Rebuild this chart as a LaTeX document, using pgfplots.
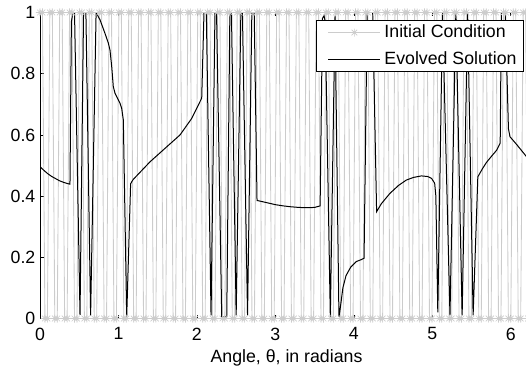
\documentclass[border=0pt]{standalone}
\usepackage{fontspec}
\setmainfont{Liberation Sans}
\usepackage{pgfplots}
\pgfplotsset{compat=1.18}
\definecolor{icgray}{rgb}{0.8,0.8,0.8}
\pgfdeclareplotmark{mstar}{%
 \pgfpathmoveto{\pgfqpoint{-\pgfplotmarksize}{0pt}}\pgfpathlineto{\pgfqpoint{\pgfplotmarksize}{0pt}}%
 \pgfpathmoveto{\pgfqpoint{0pt}{-\pgfplotmarksize}}\pgfpathlineto{\pgfqpoint{0pt}{\pgfplotmarksize}}%
 \pgfpathmoveto{\pgfqpoint{-.7071\pgfplotmarksize}{-.7071\pgfplotmarksize}}\pgfpathlineto{\pgfqpoint{.7071\pgfplotmarksize}{.7071\pgfplotmarksize}}%
 \pgfpathmoveto{\pgfqpoint{-.7071\pgfplotmarksize}{.7071\pgfplotmarksize}}\pgfpathlineto{\pgfqpoint{.7071\pgfplotmarksize}{-.7071\pgfplotmarksize}}%
 \pgfusepathqstroke}
\pgfplotstableread{
x y
0 1
0.0314 1
0.0628 0
0.0942 0
0.1257 1
0.1571 1
0.1885 0
0.2199 0
0.2513 1
0.2827 1
0.3142 0
0.3456 0
0.3770 1
0.4084 1
0.4398 0
0.4712 0
0.5027 1
0.5341 1
0.5655 0
0.5969 0
0.6283 1
0.6597 1
0.6912 0
0.7226 0
0.7540 1
0.7854 1
0.8168 0
0.8482 0
0.8796 1
0.9111 1
0.9425 0
0.9739 0
1.0053 1
1.0367 1
1.0681 0
1.0996 0
1.1310 1
1.1624 1
1.1938 0
1.2252 0
1.2566 1
1.2881 1
1.3195 0
1.3509 0
1.3823 1
1.4137 1
1.4451 0
1.4765 0
1.5080 1
1.5394 1
1.5708 0
1.6022 0
1.6336 1
1.6650 1
1.6965 0
1.7279 0
1.7593 1
1.7907 1
1.8221 0
1.8535 0
1.8850 1
1.9164 1
1.9478 0
1.9792 0
2.0106 1
2.0420 1
2.0735 0
2.1049 0
2.1363 1
2.1677 1
2.1991 0
2.2305 0
2.2619 1
2.2934 1
2.3248 0
2.3562 0
2.3876 1
2.4190 1
2.4504 0
2.4819 0
2.5133 1
2.5447 1
2.5761 0
2.6075 0
2.6389 1
2.6704 1
2.7018 0
2.7332 0
2.7646 1
2.7960 1
2.8274 0
2.8588 0
2.8903 1
2.9217 1
2.9531 0
2.9845 0
3.0159 1
3.0473 1
3.0788 0
3.1102 0
3.1416 1
3.1730 1
3.2044 0
3.2358 0
3.2673 1
3.2987 1
3.3301 0
3.3615 0
3.3929 1
3.4243 1
3.4558 0
3.4872 0
3.5186 1
3.5500 1
3.5814 0
3.6128 0
3.6442 1
3.6757 1
3.7071 0
3.7385 0
3.7699 1
3.8013 1
3.8327 0
3.8642 0
3.8956 1
3.9270 1
3.9584 0
3.9898 0
4.0212 1
4.0527 1
4.0841 0
4.1155 0
4.1469 1
4.1783 1
4.2097 0
4.2412 0
4.2726 1
4.3040 1
4.3354 0
4.3668 0
4.3982 1
4.4296 1
4.4611 0
4.4925 0
4.5239 1
4.5553 1
4.5867 0
4.6181 0
4.6496 1
4.6810 1
4.7124 0
4.7438 0
4.7752 1
4.8066 1
4.8381 0
4.8695 0
4.9009 1
4.9323 1
4.9637 0
4.9951 0
5.0265 1
5.0580 1
5.0894 0
5.1208 0
5.1522 1
5.1836 1
5.2150 0
5.2465 0
5.2779 1
5.3093 1
5.3407 0
5.3721 0
5.4035 1
5.4350 1
5.4664 0
5.4978 0
5.5292 1
5.5606 1
5.5920 0
5.6235 0
5.6549 1
5.6863 1
5.7177 0
5.7491 0
5.7805 1
5.8119 1
5.8434 0
5.8748 0
5.9062 1
5.9376 1
5.9690 0
6.0004 0
6.0319 1
6.0633 1
6.0947 0
6.1261 0
6.1575 1
6.1889 1
6.2204 0
6.2518 0
6.2832 1
}\initdata
\begin{document}
\begin{tikzpicture}
\begin{axis}[
  name=ax,
  scale only axis, width=369.75bp, height=229.5bp,
  xmin=0, xmax=6.2832, ymin=0, ymax=1,
  xtick={0,1,2,3,4,5,6}, ytick={0,0.2,0.4,0.6,0.8,1},
  tick align=inside, major tick length=3bp,
  tick style={black, line width=0.5bp},
  axis line style={line width=0.5bp},
  font=\fontsize{13.3bp}{16bp}\selectfont,
  /pgf/number format/assume math mode=true,
  xticklabel style={yshift=-3.4bp},
  xlabel={Angle, θ, in radians},
  legend cell align=left,
  legend style={at={(0.9817,0.9755)}, anchor=north east, draw=black, line width=0.5bp, fill=white,
    inner xsep=3.5bp, inner ysep=1.8bp, row sep=5.5bp, column sep=0.9bp,
    font=\fontsize{13.3bp}{16bp}\selectfont, nodes={inner sep=1.8bp}},
  legend image code/.code={\path (-5.5bp,0bp); \draw[mark repeat=2,mark phase=2,#1] plot coordinates {(0bp,0bp) (19.5bp,0bp) (39bp,0bp)};},
]
\addplot[icgray, line width=0.65bp, mark=mstar, mark size=3bp, mark options={icgray, line width=0.5bp, solid}] table[x=x,y=y] {\initdata};
\addlegendentry{Initial Condition}
\addplot[black, line width=0.75bp] coordinates {
(0,0.496) (0.05,0.484) (0.10,0.473) (0.15,0.464) (0.20,0.457) (0.25,0.450) (0.30,0.445) (0.35,0.441) (0.382,0.439)
(0.40,0.97) (0.42,1.0) (0.44,1.0) (0.51,0.012) (0.555,1.0) (0.585,1.0) (0.645,0.01) (0.715,1.0)
(0.765,0.976) (0.828,0.932) (0.871,0.90) (0.892,0.877) (0.914,0.823) (0.934,0.758) (0.956,0.736) (1.02,0.703) (1.041,0.687) (1.062,0.649)
(1.105,0.005) (1.155,0.44) (1.169,0.447) (1.19,0.455) (1.402,0.512) (1.615,0.561) (1.785,0.60) (1.934,0.654) (1.997,0.687) (2.061,0.72)
(2.09,1.0) (2.12,1.0) (2.18,0.01) (2.23,1.0) (2.25,1.0) (2.316,0.005) (2.38,0.005) (2.42,1.0) (2.44,1.0) (2.50,0.01)
(2.56,1.0) (2.58,1.0) (2.645,0.01) (2.70,1.0) (2.73,1.0) (2.766,0.385)
(2.78,0.385) (2.9,0.378) (3.0,0.372) (3.1,0.368) (3.2,0.365) (3.3,0.363) (3.4,0.362) (3.5,0.363) (3.57,0.368)
(3.60,0.98) (3.62,0.99) (3.635,0.97) (3.70,0.005) (3.76,0.99) (3.81,0.005)
(3.83,0.04) (3.86,0.10) (3.90,0.14) (3.96,0.168) (4.03,0.186) (4.10,0.193) (4.13,0.197)
(4.17,1.0) (4.24,1.0) (4.29,0.349) (4.35,0.375) (4.46,0.409) (4.57,0.435) (4.67,0.4526) (4.76,0.461) (4.86,0.466) (4.94,0.464) (4.99,0.458) (5.03,0.442) (5.045,0.40)
(5.07,0.02) (5.13,1.0) (5.225,0.01) (5.30,1.0) (5.38,0.01) (5.45,1.0) (5.52,0.01)
(5.58,0.463) (5.64,0.49) (5.69,0.51) (5.76,0.532) (5.82,0.55) (5.865,0.573)
(5.88,1.0) (5.93,1.0) (5.97,0.62) (5.99,0.594) (6.08,0.567) (6.20,0.529) (6.2832,0.50)
};
\addlegendentry{Evolved Solution}
\end{axis}
\pgfresetboundingbox
\useasboundingbox ([shift={(-30bp,-36.375bp)}]ax.south west) rectangle ([shift={(364.5bp,238.875bp)}]ax.south west);
\end{tikzpicture}
\end{document}
